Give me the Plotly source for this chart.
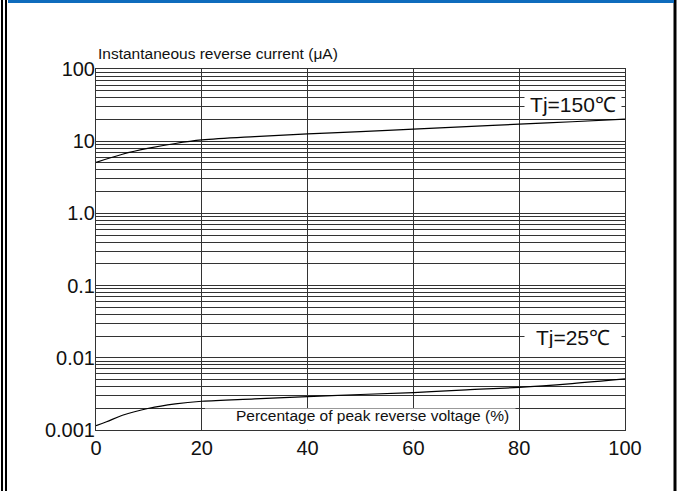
import plotly.graph_objects as go

# ---- data ----
x_150 = [0, 5, 10, 15, 20, 30, 40, 50, 60, 70, 80, 90, 100]
y_150 = [5.1, 6.6, 8.0, 9.3, 10.4, 11.6, 12.6, 13.6, 14.7, 15.9, 17.2, 18.6, 20.2]

x_25 = [0, 2, 5, 10, 15, 20, 30, 40, 50, 60, 70, 80, 90, 100]
y_25 = [0.00115, 0.0013, 0.0016, 0.0020, 0.0023, 0.0025, 0.0027, 0.0029, 0.0031, 0.0033, 0.0036, 0.0039, 0.0044, 0.0051]

x_ticks = [0, 20, 40, 60, 80, 100]
y_decades = [0.001, 0.01, 0.1, 1, 10, 100]
y_decade_labels = ["0.001", "0.01", "0.1", "1.0", "10", "100"]

label_150 = "Tj=150℃"
label_25 = "Tj=25℃"
y_title = "Instantaneous reverse current (μA)"
x_title = "Percentage of peak reverse voltage (%)"

# all log grid lines (1..9 per decade)
y_grid = []
y_grid_text = []
for d, lab in zip(y_decades[:-1], y_decade_labels[:-1]):
    for m in range(1, 10):
        y_grid.append(d * m)
        y_grid_text.append(lab if m == 1 else "")
y_grid.append(100)
y_grid_text.append("100")

fig = go.Figure()
fig.add_trace(go.Scatter(x=x_150, y=y_150, mode="lines", line=dict(color="black", width=1.2, shape="spline"),
                         showlegend=False, hoverinfo="skip"))
fig.add_trace(go.Scatter(x=x_25, y=y_25, mode="lines", line=dict(color="black", width=1.2, shape="spline"),
                         showlegend=False, hoverinfo="skip"))

def px2x(px):
    return (px - 96) / 529.0

def py2y(py):
    return (430 - py) / 361.0

FONT = "Liberation Sans, Arial, sans-serif"

shapes = [
    # white box behind x-axis title (covers gridlines)
    dict(type="rect", xref="x", yref="y", x0=20.6, x1=79.3, y0=0.00101, y1=0.00198,
         fillcolor="white", line=dict(width=0), layer="between"),
    # page borders
    dict(type="line", xref="paper", yref="paper", x0=px2x(2), x1=px2x(2), y0=py2y(0), y1=py2y(491),
         line=dict(color="black", width=2)),
    dict(type="line", xref="paper", yref="paper", x0=px2x(6), x1=px2x(6), y0=py2y(0), y1=py2y(491),
         line=dict(color="black", width=2)),
    dict(type="line", xref="paper", yref="paper", x0=px2x(675), x1=px2x(675), y0=py2y(0), y1=py2y(491),
         line=dict(color="black", width=3)),
    dict(type="rect", xref="paper", yref="paper", x0=px2x(8), x1=px2x(674), y0=py2y(3), y1=py2y(0),
         fillcolor="#0f6cbd", line=dict(width=0)),
]

annotations = [
    dict(text=y_title, xref="paper", yref="paper", x=px2x(96), y=py2y(54), xanchor="left", yanchor="middle",
         showarrow=False, font=dict(size=15.5, color="#111", family=FONT)),
    dict(text=x_title, xref="paper", yref="paper", x=px2x(372), y=py2y(415), xanchor="center", yanchor="middle",
         showarrow=False, font=dict(size=15.5, color="#111", family=FONT)),
    dict(text=label_150, xref="paper", yref="paper", x=px2x(573), y=py2y(104), xanchor="center", yanchor="middle",
         showarrow=False, font=dict(size=21, color="#111", family=FONT), bgcolor="white", width=96, height=24, borderpad=0),
    dict(text=label_25, xref="paper", yref="paper", x=px2x(573), y=py2y(337), xanchor="center", yanchor="middle",
         showarrow=False, font=dict(size=21, color="#111", family=FONT), bgcolor="white", width=96, height=22, borderpad=0),
]

fig.update_layout(
    width=677, height=491, autosize=False,
    margin=dict(l=96, r=52, t=69, b=61),
    paper_bgcolor="white", plot_bgcolor="white",
    font=dict(family=FONT, color="#111"),
    shapes=shapes, annotations=annotations,
    xaxis=dict(range=[0, 100], tickvals=x_ticks, ticktext=[str(v) for v in x_ticks],
               showgrid=True, gridcolor="#333", gridwidth=1, zeroline=False,
               showline=True, linecolor="#333", linewidth=1, mirror=True, ticks="",
               tickfont=dict(size=20, color="#111", family=FONT)),
    yaxis=dict(type="log", range=[-3, 2], tickvals=y_grid, ticktext=y_grid_text,
               showgrid=True, gridcolor="#333", gridwidth=1, zeroline=False,
               showline=True, linecolor="#333", linewidth=1, mirror=True, ticks="",
               tickfont=dict(size=20, color="#111", family=FONT), ticklabelstandoff=-4),
)

fig.write_html("out.html", config={"displayModeBar": False},
               post_script="document.body.style.margin='0';document.body.style.overflow='hidden';")
